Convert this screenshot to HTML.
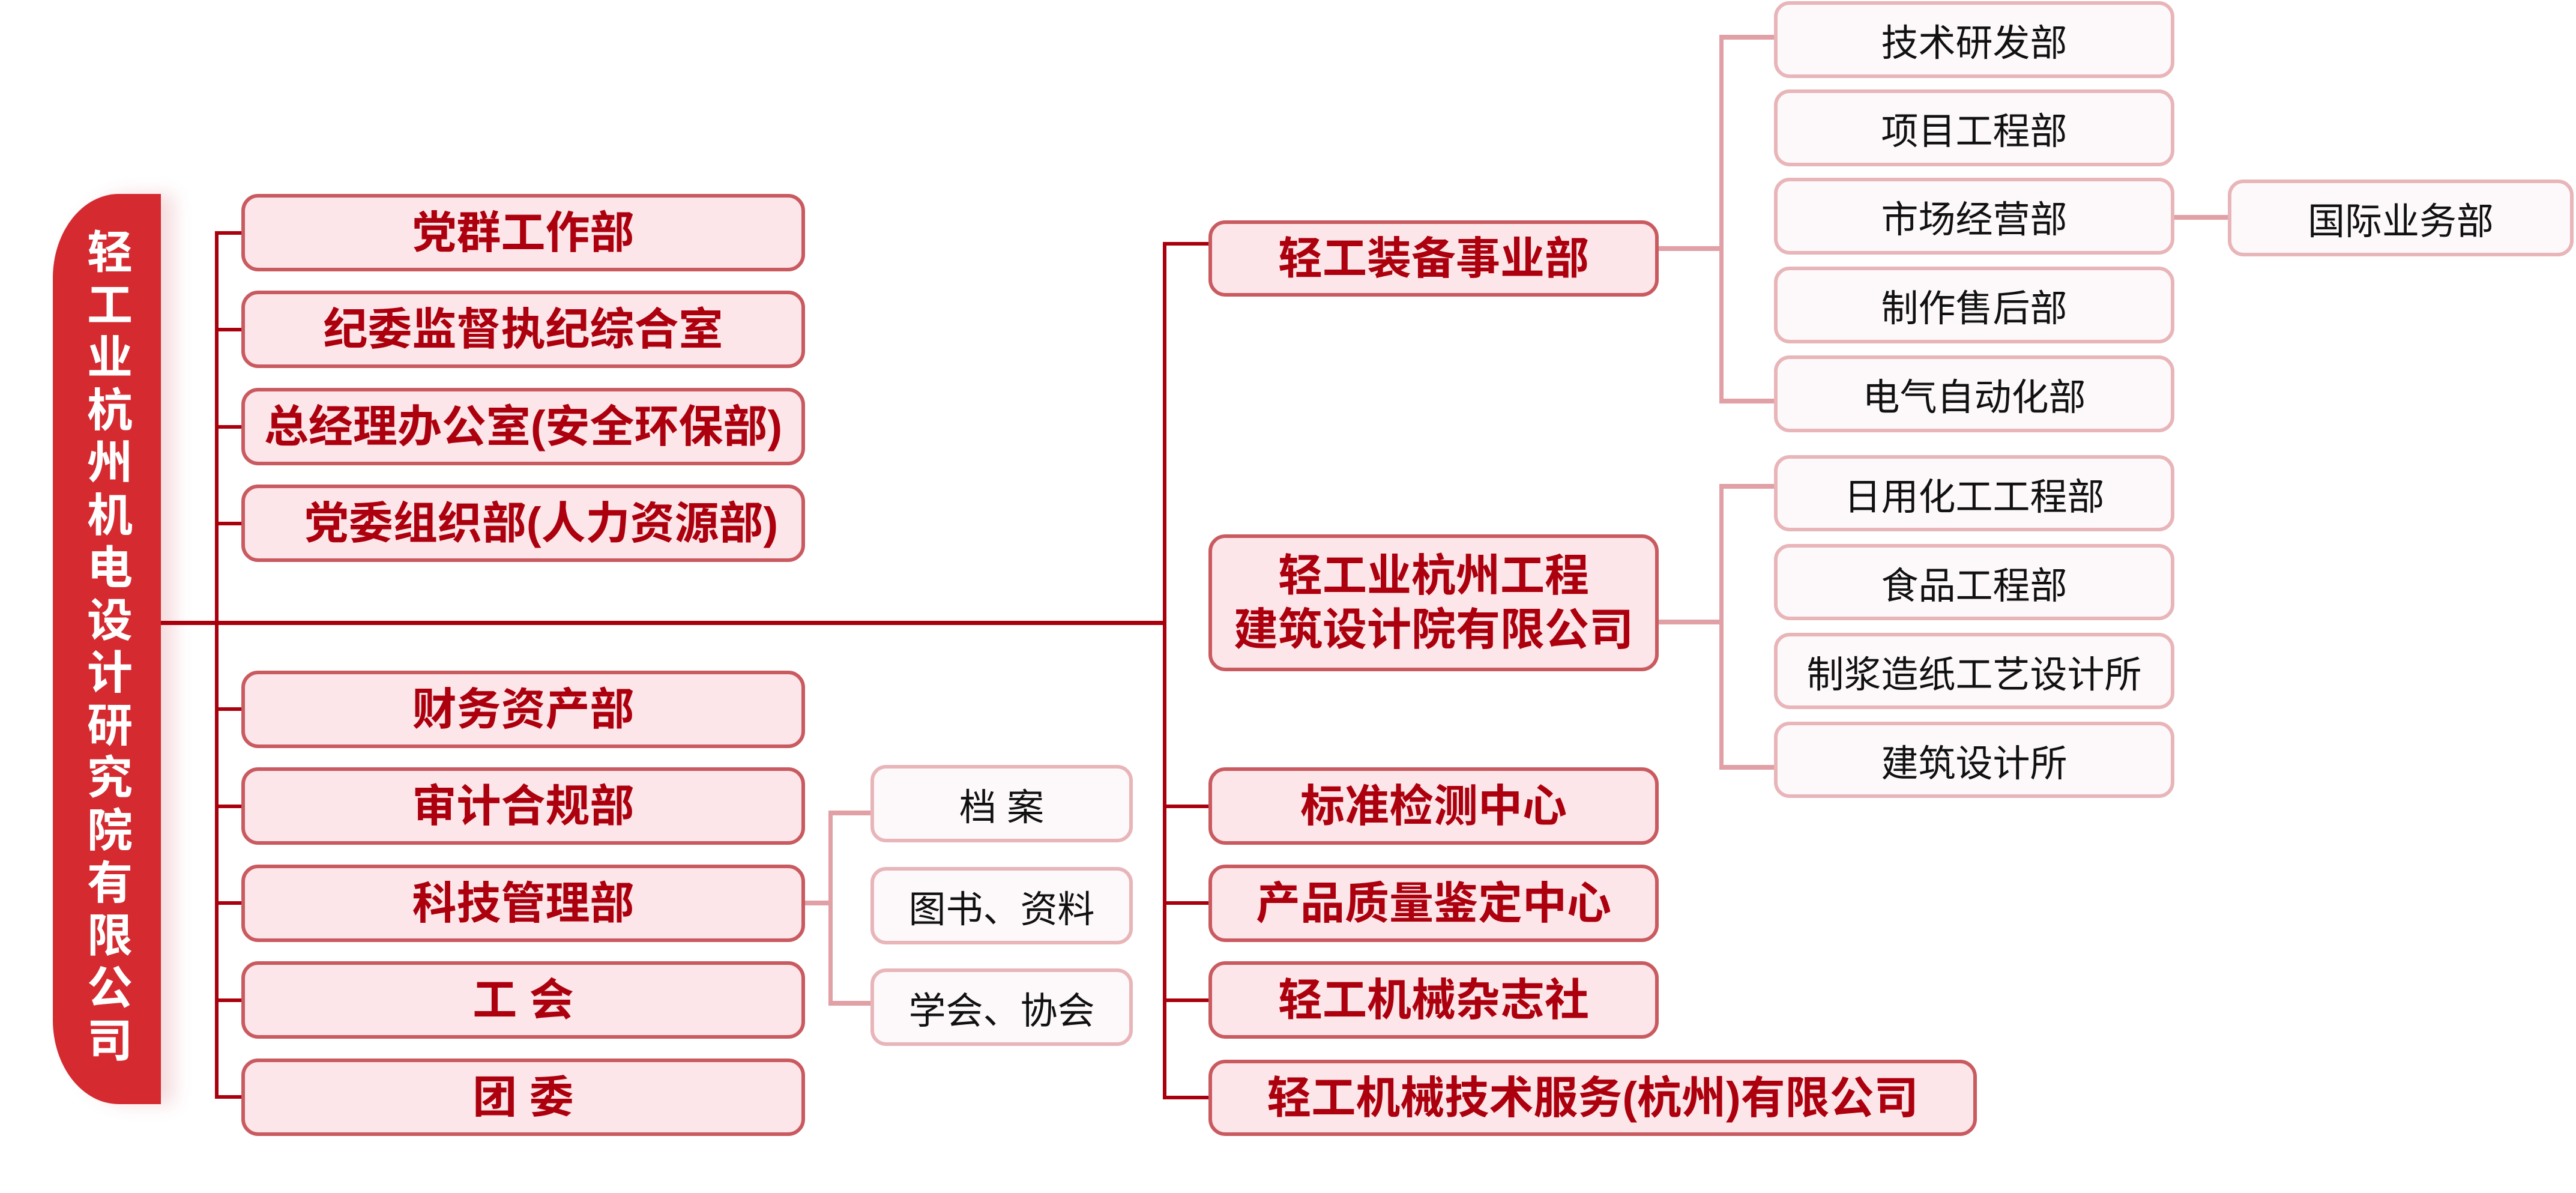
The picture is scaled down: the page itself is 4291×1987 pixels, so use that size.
<!DOCTYPE html>
<html><head><meta charset="utf-8"><style>
*{margin:0;padding:0;box-sizing:border-box}
body{width:4291px;height:1987px;background:#fff;position:relative;overflow:hidden;font-family:"Liberation Sans","Noto Sans CJK SC",sans-serif}
.b{position:absolute;display:flex;align-items:center;justify-content:center;text-align:center}
.m{background:#fce6e9;border:6px solid #c95a60;border-radius:28px;color:#ad000e;font-weight:bold;font-size:74px;line-height:90px;white-space:nowrap}
.s{background:#fdf9fa;border:6px solid #e8b5b9;border-radius:26px;color:#111;font-size:62px;white-space:nowrap}
.l{position:absolute;background:#a8000c}
.p{position:absolute;background:#e0a0a5}
.bar{position:absolute;left:88px;top:323px;width:180px;height:1516px;background:#d42a30;border-radius:110px 0 0 110px/140px 0 0 140px;box-shadow:22px 0 30px rgba(200,60,70,.18);color:#fff;font-weight:bold;font-size:76px;line-height:87.5px;text-align:center;padding-top:55px;padding-left:10px}
</style></head><body>
<div class="bar">轻<br>工<br>业<br>杭<br>州<br>机<br>电<br>设<br>计<br>研<br>究<br>院<br>有<br>限<br>公<br>司</div>

<div class="l" style="left:358px;top:385px;width:6px;height:1445px"></div>
<div class="l" style="left:268px;top:1034px;width:1675px;height:7px"></div>
<div class="l" style="left:1937px;top:403px;width:6px;height:1428px"></div>

<div class="l" style="left:358px;top:385px;width:46px;height:6px"></div>
<div class="l" style="left:358px;top:546px;width:46px;height:6px"></div>
<div class="l" style="left:358px;top:708px;width:46px;height:6px"></div>
<div class="l" style="left:358px;top:869px;width:46px;height:6px"></div>
<div class="l" style="left:358px;top:1178px;width:46px;height:6px"></div>
<div class="l" style="left:358px;top:1340px;width:46px;height:6px"></div>
<div class="l" style="left:358px;top:1501px;width:46px;height:6px"></div>
<div class="l" style="left:358px;top:1663px;width:46px;height:6px"></div>
<div class="l" style="left:358px;top:1824px;width:46px;height:6px"></div>

<div class="b m" style="left:402px;top:323px;width:939px;height:129px">党群工作部</div>
<div class="b m" style="left:402px;top:484px;width:939px;height:129px">纪委监督执纪综合室</div>
<div class="b m" style="left:402px;top:646px;width:939px;height:129px">总经理办公室(安全环保部)</div>
<div class="b m" style="left:402px;top:807px;width:939px;height:129px;padding-left:60px">党委组织部(人力资源部)</div>
<div class="b m" style="left:402px;top:1117px;width:939px;height:129px">财务资产部</div>
<div class="b m" style="left:402px;top:1278px;width:939px;height:129px">审计合规部</div>
<div class="b m" style="left:402px;top:1440px;width:939px;height:129px">科技管理部</div>
<div class="b m" style="left:402px;top:1601px;width:939px;height:129px">工&nbsp;会</div>
<div class="b m" style="left:402px;top:1763px;width:939px;height:129px">团&nbsp;委</div>

<div class="p" style="left:1341px;top:1500px;width:45px;height:8px"></div>
<div class="p" style="left:1380px;top:1350px;width:7px;height:325px"></div>
<div class="p" style="left:1380px;top:1350px;width:72px;height:8px"></div>
<div class="p" style="left:1380px;top:1667px;width:72px;height:8px"></div>
<div class="b s" style="left:1450px;top:1274px;width:437px;height:129px">档&nbsp;案</div>
<div class="b s" style="left:1450px;top:1444px;width:437px;height:129px">图书、资料</div>
<div class="b s" style="left:1450px;top:1613px;width:437px;height:129px">学会、协会</div>

<div class="l" style="left:1937px;top:403px;width:78px;height:6px"></div>
<div class="l" style="left:1937px;top:1340px;width:78px;height:6px"></div>
<div class="l" style="left:1937px;top:1501px;width:78px;height:6px"></div>
<div class="l" style="left:1937px;top:1663px;width:78px;height:6px"></div>
<div class="l" style="left:1937px;top:1825px;width:78px;height:6px"></div>

<div class="b m" style="left:2013px;top:367px;width:750px;height:127px">轻工装备事业部</div>
<div class="b m" style="left:2013px;top:890px;width:750px;height:228px">轻工业杭州工程<br>建筑设计院有限公司</div>
<div class="b m" style="left:2013px;top:1278px;width:750px;height:129px">标准检测中心</div>
<div class="b m" style="left:2013px;top:1440px;width:750px;height:129px">产品质量鉴定中心</div>
<div class="b m" style="left:2013px;top:1601px;width:750px;height:129px">轻工机械杂志社</div>
<div class="b m" style="left:2013px;top:1765px;width:1280px;height:127px">轻工机械技术服务(杭州)有限公司</div>

<div class="p" style="left:2763px;top:410px;width:108px;height:8px"></div>
<div class="p" style="left:2864px;top:58px;width:7px;height:614px"></div>
<div class="p" style="left:2864px;top:58px;width:92px;height:8px"></div>
<div class="p" style="left:2864px;top:664px;width:92px;height:8px"></div>
<div class="b s" style="left:2955px;top:2px;width:667px;height:128px">技术研发部</div>
<div class="b s" style="left:2955px;top:149px;width:667px;height:128px">项目工程部</div>
<div class="b s" style="left:2955px;top:296px;width:667px;height:128px">市场经营部</div>
<div class="b s" style="left:2955px;top:444px;width:667px;height:128px">制作售后部</div>
<div class="b s" style="left:2955px;top:592px;width:667px;height:128px">电气自动化部</div>
<div class="p" style="left:3622px;top:358px;width:90px;height:8px"></div>
<div class="b s" style="left:3711px;top:299px;width:576px;height:128px">国际业务部</div>

<div class="p" style="left:2763px;top:1032px;width:108px;height:8px"></div>
<div class="p" style="left:2864px;top:806px;width:7px;height:476px"></div>
<div class="p" style="left:2864px;top:806px;width:92px;height:8px"></div>
<div class="p" style="left:2864px;top:1274px;width:92px;height:8px"></div>
<div class="b s" style="left:2955px;top:758px;width:667px;height:127px">日用化工工程部</div>
<div class="b s" style="left:2955px;top:906px;width:667px;height:127px">食品工程部</div>
<div class="b s" style="left:2955px;top:1054px;width:667px;height:127px">制浆造纸工艺设计所</div>
<div class="b s" style="left:2955px;top:1202px;width:667px;height:127px">建筑设计所</div>
</body></html>
